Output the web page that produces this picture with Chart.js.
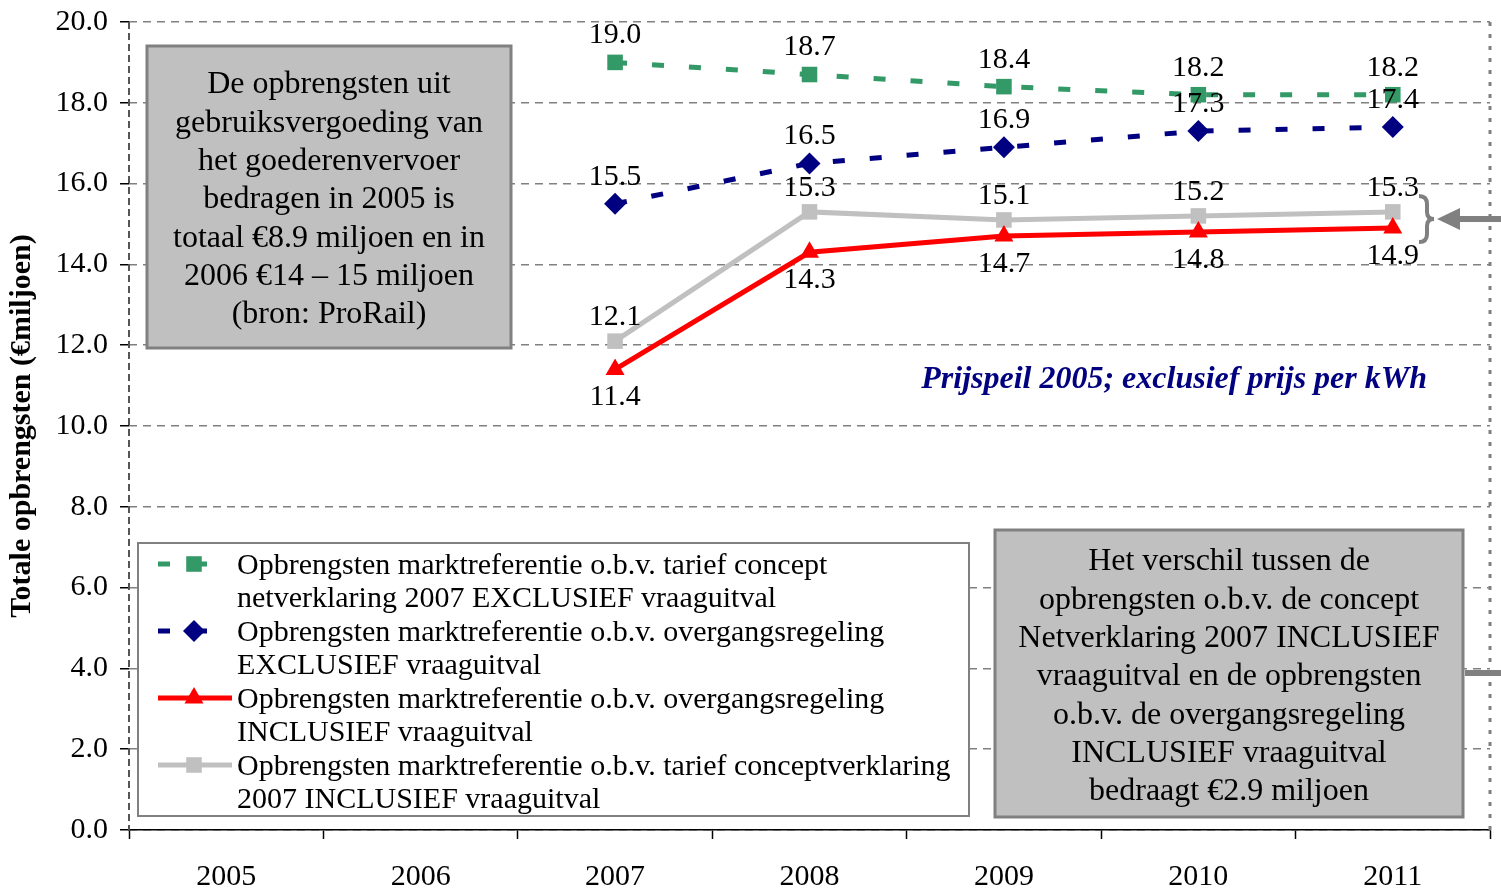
<!DOCTYPE html>
<html>
<head>
<meta charset="utf-8">
<script src="https://cdn.jsdelivr.net/npm/chart.js@4.4.1/dist/chart.umd.min.js"></script>
<style>
body { margin: 0; background: #fff; }
#wrap { width: 1501px; height: 888px; }
</style>
</head>
<body>
<div id="wrap"><canvas id="chart" width="1501" height="888"></canvas></div>
<script>
const years = ["2005", "2006", "2007", "2008", "2009", "2010", "2011"];

const conceptExcl = [null, null, 19.0, 18.7, 18.4, 18.2, 18.2];
const overgangExcl = [null, null, 15.5, 16.5, 16.9, 17.3, 17.4];
const overgangIncl = [null, null, 11.4, 14.3, 14.7, 14.8, 14.9];
const conceptIncl = [null, null, 12.1, 15.3, 15.1, 15.2, 15.3];

const legendLines = [
    ["Opbrengsten marktreferentie o.b.v. tarief concept", "netverklaring 2007 EXCLUSIEF vraaguitval"],
    ["Opbrengsten marktreferentie o.b.v. overgangsregeling", "EXCLUSIEF vraaguitval"],
    ["Opbrengsten marktreferentie o.b.v. overgangsregeling", "INCLUSIEF vraaguitval"],
    ["Opbrengsten marktreferentie o.b.v. tarief conceptverklaring", "2007 INCLUSIEF vraaguitval"]
];

const noteLeft = [
    "De opbrengsten uit",
    "gebruiksvergoeding van",
    "het goederenvervoer",
    "bedragen in 2005 is",
    "totaal €8.9 miljoen en in",
    "2006 €14 – 15 miljoen",
    "(bron: ProRail)"
];

const noteRight = [
    "Het verschil tussen de",
    "opbrengsten o.b.v. de concept",
    "Netverklaring 2007 INCLUSIEF",
    "vraaguitval en de opbrengsten",
    "o.b.v. de overgangsregeling",
    "INCLUSIEF vraaguitval",
    "bedraagt €2.9 miljoen"
];

const priceNote = "Prijspeil 2005; exclusief prijs per kWh";

const FONT = "'Liberation Serif', 'Times New Roman', serif";

// label offset (px) above / below each point, per dataset
const labelOffsets = [-27, -27, 28, -24];

function drawMarker(ctx, style, r, x, y, color)
{
    ctx.fillStyle = color;
    ctx.beginPath();
    if (style === "rect")
    {
        const s = r * Math.SQRT1_2;
        ctx.rect(x - s, y - s, 2 * s, 2 * s);
    }
    else if (style === "rectRot")
    {
        ctx.moveTo(x, y - r);
        ctx.lineTo(x + r, y);
        ctx.lineTo(x, y + r);
        ctx.lineTo(x - r, y);
        ctx.closePath();
    }
    else
    {
        ctx.moveTo(x, y - r);
        ctx.lineTo(x + r * 0.866, y + r * 0.5);
        ctx.lineTo(x - r * 0.866, y + r * 0.5);
        ctx.closePath();
    }
    ctx.fill();
}

function noteBox(ctx, x, y, w, h, fill, stroke, lw)
{
    ctx.fillStyle = fill;
    ctx.fillRect(x, y, w, h);
    ctx.strokeStyle = stroke;
    ctx.lineWidth = lw;
    ctx.setLineDash([]);
    ctx.strokeRect(x, y, w, h);
}

const overlay = {
    id: "overlay",
    beforeDatasetsDraw(chart)
    {
        const ctx = chart.ctx;
        const a = chart.chartArea;
        ctx.save();

        // left axis (dashed dark) and right border (dotted)
        ctx.strokeStyle = "#555";
        ctx.lineWidth = 2;
        ctx.setLineDash([7, 4]);
        ctx.beginPath();
        ctx.moveTo(a.left, a.top);
        ctx.lineTo(a.left, a.bottom);
        ctx.stroke();

        ctx.strokeStyle = "#808080";
        ctx.lineWidth = 3;
        ctx.setLineDash([4, 8]);
        ctx.beginPath();
        ctx.moveTo(a.right, a.top);
        ctx.lineTo(a.right, a.bottom);
        ctx.stroke();

        // note boxes
        noteBox(ctx, 147, 46, 364, 302, "#c0c0c0", "#808080", 3);
        noteBox(ctx, 995, 530, 468, 287, "#c0c0c0", "#808080", 3);

        ctx.fillStyle = "#000";
        ctx.font = "32px " + FONT;
        ctx.textAlign = "center";
        ctx.textBaseline = "middle";
        noteLeft.forEach((t, i) => ctx.fillText(t, 329, 85 + i * 38.3));
        noteRight.forEach((t, i) => ctx.fillText(t, 1229, 562 + i * 38.3));

        // legend box
        noteBox(ctx, 138, 543, 831, 273, "#fff", "#808080", 2);
        chart.data.datasets.forEach((ds, i) =>
        {
            const yy = 564 + i * 67;
            ctx.strokeStyle = ds.borderColor;
            ctx.lineWidth = ds.borderWidth;
            ctx.setLineDash(ds.borderDash || []);
            ctx.beginPath();
            ctx.moveTo(158, yy);
            ctx.lineTo(232, yy);
            ctx.stroke();
            ctx.setLineDash([]);
            drawMarker(ctx, ds.pointStyle, ds.pointRadius, 194, yy, ds.borderColor);

            ctx.fillStyle = "#000";
            ctx.font = "30px " + FONT;
            ctx.textAlign = "left";
            legendLines[i].forEach((t, j) => ctx.fillText(t, 237, 566 + i * 67 + j * 33.6));
        });

        // price note
        ctx.fillStyle = "#000080";
        ctx.font = "italic bold 32px " + FONT;
        ctx.textAlign = "right";
        ctx.fillText(priceNote, 1427, 380);

        // bracket and arrows
        ctx.strokeStyle = "#808080";
        ctx.lineWidth = 4;
        ctx.beginPath();
        ctx.moveTo(1419, 196);
        ctx.quadraticCurveTo(1427, 196, 1427, 204);
        ctx.lineTo(1427, 212);
        ctx.quadraticCurveTo(1427, 219, 1434, 219);
        ctx.quadraticCurveTo(1427, 219, 1427, 226);
        ctx.lineTo(1427, 234);
        ctx.quadraticCurveTo(1427, 242, 1419, 242);
        ctx.stroke();

        ctx.fillStyle = "#808080";
        ctx.fillRect(1455, 216, 46, 6);
        ctx.beginPath();
        ctx.moveTo(1437, 219);
        ctx.lineTo(1460, 208);
        ctx.lineTo(1460, 230);
        ctx.closePath();
        ctx.fill();

        ctx.fillRect(1465, 670, 36, 6);
        ctx.restore();
    },
    afterDatasetsDraw(chart)
    {
        const ctx = chart.ctx;
        ctx.save();
        ctx.fillStyle = "#000";
        ctx.font = "30px " + FONT;
        ctx.textAlign = "center";
        ctx.textBaseline = "middle";
        chart.data.datasets.forEach((ds, i) =>
        {
            const meta = chart.getDatasetMeta(i);
            meta.data.forEach((pt, j) =>
            {
                const v = ds.data[j];
                if (v === null) return;
                ctx.fillText(v.toFixed(1), pt.x, pt.y + labelOffsets[i]);
            });
        });
        ctx.restore();
    }
};

new Chart(
    document.getElementById("chart"),
    {
        type: "line",
        data: {
            labels: years,
            datasets: [
                {
                    data: conceptExcl,
                    borderColor: "#339966",
                    backgroundColor: "#339966",
                    borderWidth: 5,
                    borderDash: [12, 25],
                    pointStyle: "rect",
                    pointRadius: 11,
                    pointBorderWidth: 0
                },
                {
                    data: overgangExcl,
                    borderColor: "#000080",
                    backgroundColor: "#000080",
                    borderWidth: 5,
                    borderDash: [12, 25],
                    pointStyle: "rectRot",
                    pointRadius: 11,
                    pointBorderWidth: 0
                },
                {
                    data: overgangIncl,
                    borderColor: "#ff0000",
                    backgroundColor: "#ff0000",
                    borderWidth: 5,
                    pointStyle: "triangle",
                    pointRadius: 11,
                    pointBorderWidth: 0
                },
                {
                    data: conceptIncl,
                    borderColor: "#c0c0c0",
                    backgroundColor: "#c0c0c0",
                    borderWidth: 5,
                    pointStyle: "rect",
                    pointRadius: 11,
                    pointBorderWidth: 0
                }
            ]
        },
        options: {
            responsive: false,
            animation: false,
            layout: { padding: { top: 22, right: 11, left: 0, bottom: 0 } },
            plugins: {
                legend: { display: false },
                tooltip: { enabled: false }
            },
            scales: {
                x: {
                    offset: true,
                    grid: {
                        offset: true,
                        drawOnChartArea: false,
                        tickLength: 9,
                        tickColor: "#000",
                        tickWidth: 1.5
                    },
                    border: { color: "#000", width: 1.5 },
                    ticks: {
                        font: { family: FONT, size: 30 },
                        color: "#000",
                        padding: 20
                    },
                    afterFit(s) { s.height = 58; }
                },
                y: {
                    min: 0,
                    max: 20,
                    ticks: {
                        stepSize: 2,
                        callback: v => v.toFixed(1),
                        font: { family: FONT, size: 30 },
                        color: "#000",
                        padding: 12
                    },
                    grid: {
                        color: "#808080",
                        lineWidth: 1.5,
                        tickLength: 9,
                        tickColor: "#000",
                        tickWidth: 1.5,
                        tickBorderDash: []
                    },
                    border: { display: false, dash: [8, 6] },
                    title: {
                        display: true,
                        text: "Totale opbrengsten (€miljoen)",
                        font: { family: FONT, size: 30, weight: "bold" },
                        color: "#000",
                        padding: { top: 4, bottom: 0 }
                    },
                    afterFit(s)
                    {
                        s.width = 129;
                        s.paddingTop = 0;
                        s.paddingBottom = 0;
                    }
                }
            }
        },
        plugins: [overlay]
    }
);
</script>
</body>
</html>
